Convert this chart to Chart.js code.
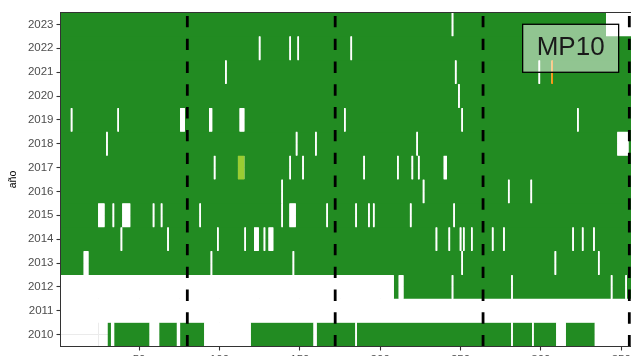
<!DOCTYPE html>
<html>
<head>
<meta charset="utf-8">
<script src="https://cdn.jsdelivr.net/npm/chart.js@4.4.1/dist/chart.umd.min.js"></script>
<style>
  html, body { margin: 0; padding: 0; background: #fff; overflow: hidden; }
  #wrap { position: absolute; left: 0; top: 0; width: 680px; height: 380px; }
</style>
</head>
<body>
<div id="wrap"><canvas id="myChart" width="680" height="380"></canvas></div>
<script>
const anios = ["2010", "2011", "2012", "2013", "2014", "2015", "2016",
               "2017", "2018", "2019", "2020", "2021", "2022", "2023"];
const primerDia = [31, 1, 1, 1, 1, 1, 1, 1, 1, 1, 1, 1, 1, 1];
const ultimoDia = [365, 365, 366, 365, 365, 365, 366, 365, 365, 365, 366, 365, 365, 365];

// [año, día desde, día hasta] sin dato
const sinDato = [
  ["2010", 33, 34], ["2010", 57, 62], ["2010", 74, 75], ["2010", 91, 119], ["2010", 159, 160],
  ["2010", 185, 185], ["2010", 282, 282], ["2010", 295, 295], ["2010", 310, 315], ["2010", 334, 365],
  ["2011", 1, 365],
  ["2012", 1, 208], ["2012", 212, 214], ["2012", 245, 245], ["2012", 282, 282], ["2012", 344, 344], ["2012", 353, 353],
  ["2013", 16, 18], ["2013", 95, 95], ["2013", 146, 146], ["2013", 251, 251], ["2013", 309, 309], ["2013", 336, 336],
  ["2014", 39, 39], ["2014", 68, 68], ["2014", 99, 99], ["2014", 116, 116], ["2014", 122, 124], ["2014", 128, 128],
  ["2014", 131, 133], ["2014", 235, 235], ["2014", 243, 243], ["2014", 250, 250], ["2014", 252, 252], ["2014", 257, 257],
  ["2014", 270, 270], ["2014", 277, 277], ["2014", 320, 320], ["2014", 326, 326], ["2014", 333, 333],
  ["2015", 25, 28], ["2015", 34, 34], ["2015", 40, 44], ["2015", 59, 59], ["2015", 64, 64], ["2015", 88, 88],
  ["2015", 139, 139], ["2015", 144, 147], ["2015", 167, 167], ["2015", 185, 185], ["2015", 193, 193],
  ["2015", 196, 196], ["2015", 219, 219], ["2015", 246, 246],
  ["2016", 139, 139], ["2016", 227, 227], ["2016", 280, 280], ["2016", 294, 294],
  ["2017", 97, 97], ["2017", 144, 144], ["2017", 152, 152], ["2017", 190, 190], ["2017", 211, 211],
  ["2017", 220, 220], ["2017", 224, 224], ["2017", 240, 241],
  ["2018", 30, 30], ["2018", 148, 148], ["2018", 160, 160], ["2018", 223, 223], ["2018", 348, 354],
  ["2019", 8, 8], ["2019", 37, 37], ["2019", 76, 78], ["2019", 94, 95], ["2019", 113, 115],
  ["2019", 178, 178], ["2019", 251, 251], ["2019", 323, 323],
  ["2020", 249, 249],
  ["2021", 104, 104], ["2021", 247, 247], ["2021", 299, 299],
  ["2022", 125, 125], ["2022", 144, 144], ["2022", 149, 149], ["2022", 182, 182],
  ["2023", 245, 245], ["2023", 341, 365]
];
const regular = [["2017", 112, 115]];
const alerta = [["2021", 307, 307]];

const estaciones = [80, 172, 264, 355];
const marcasX = [50, 100, 150, 200, 250, 300, 350];
const marcasMenoresX = [25, 75, 125, 175, 225, 275, 325];
const etiqueta = "MP10";

const colores = { bueno: "#228B22", regular: "#9ACD32", alerta: "#FF8C00", sinDato: "#FFFFFF" };

// tramos con dato "bueno" = lo que queda fuera de los otros tramos
function tramosBuenos() {
  const out = [];
  const otros = sinDato.concat(regular, alerta);
  anios.forEach((a, i) => {
    const huecos = otros.filter(r => r[0] === a).sort((p, q) => p[1] - q[1]);
    let desde = primerDia[i];
    huecos.forEach(([, d, h]) => {
      if (d > desde) out.push({ x: [desde - 0.5, d - 0.5], y: a });
      desde = Math.max(desde, h + 1);
    });
    if (desde <= ultimoDia[i]) out.push({ x: [desde - 0.5, ultimoDia[i] + 0.5], y: a });
  });
  return out;
}
const aBarras = rs => rs.map(([a, d, h]) => ({ x: [d - 0.5, h + 0.5], y: a }));

Chart.defaults.font.family = "'Liberation Sans', Arial, sans-serif";

const barra = {
  type: "bar", indexAxis: "y", xAxisID: "x", yAxisID: "y",
  grouped: false, categoryPercentage: 1, barPercentage: 1,
  borderWidth: 0, inflateAmount: 0
};

const marco = {
  id: "marco",
  afterDatasetsDraw(chart) {
    const { ctx, chartArea: a, scales } = chart;
    const cx = scales.x.getPixelForValue(318.5);
    const cy = scales.y.getPixelForValue(anios.indexOf("2022"));
    const w = 96, h = 48;
    ctx.save();
    ctx.fillStyle = "rgba(255,255,255,0.5)";
    ctx.fillRect(cx - w / 2, cy - h / 2, w, h);
    ctx.strokeStyle = "#000";
    ctx.lineWidth = 1.3;
    ctx.strokeRect(cx - w / 2, cy - h / 2, w, h);
    ctx.fillStyle = "#1A1A1A";
    ctx.font = "26px 'Liberation Sans', Arial, sans-serif";
    ctx.textAlign = "center";
    ctx.textBaseline = "alphabetic";
    ctx.fillText(etiqueta, cx, cy + 7);
    ctx.strokeStyle = "#333";
    ctx.lineWidth = 1;
    ctx.strokeRect(a.left, a.top, a.right - a.left, a.bottom - a.top);
    ctx.restore();
  }
};

new Chart(document.getElementById("myChart"), {
  type: "bar",
  plugins: [marco],
  data: {
    labels: anios,
    datasets: [
      { ...barra, label: "Bueno", data: tramosBuenos(), backgroundColor: colores.bueno, barPercentage: 1.04, order: 4 },
      { ...barra, label: "Sin dato", data: aBarras(sinDato), backgroundColor: colores.sinDato, order: 3 },
      { ...barra, label: "Regular", data: aBarras(regular), backgroundColor: colores.regular, order: 2 },
      { ...barra, label: "Alerta", data: aBarras(alerta), backgroundColor: colores.alerta, order: 2 },
      ...estaciones.map(d => ({
        type: "line", label: "dia " + d, indexAxis: "x", xAxisID: "x", yAxisID: "yl",
        data: [{ x: d, y: 0 }, { x: d, y: 1 }],
        borderColor: "#000", borderWidth: 2.8, borderDash: [11.4, 11.4],
        pointRadius: 0, order: 0
      }))
    ]
  },
  options: {
    responsive: false,
    animation: false,
    layout: { padding: { top: 12.5, right: 33, bottom: 0, left: 0 } },
    plugins: { legend: { display: false }, tooltip: { enabled: false } },
    scales: {
      x: {
        type: "linear", position: "bottom", min: 1.1, max: 366, offset: false,
        afterBuildTicks: s => {
          s.ticks = marcasMenoresX.concat(marcasX).sort((p, q) => p - q).map(v => ({ value: v }));
        },
        afterFit: s => { s.height = 33.5; },
        ticks: {
          callback: v => marcasX.includes(v) ? String(v) : "",
          color: "#4D4D4D", font: { size: 11.5 }, padding: 2, maxRotation: 0, autoSkip: false
        },
        grid: {
          offset: false, color: "#EBEBEB", tickLength: 4, tickWidth: 1.1,
          tickColor: c => (c.tick && marcasX.includes(c.tick.value)) ? "#333" : "rgba(0,0,0,0)"
        },
        border: { display: false }
      },
      y: {
        type: "category", position: "left", reverse: true, offset: true,
        afterFit: s => { s.width = 60.5; },
        ticks: { color: "#4D4D4D", font: { size: 11.5 }, padding: 3, autoSkip: false },
        grid: { offset: false, color: "#EBEBEB", tickLength: 4, tickColor: "#333", tickWidth: 1.1 },
        border: { display: false },
        title: { display: true, text: "año", color: "#000", font: { size: 10.5 }, padding: { top: 7, bottom: 0 } }
      },
      yl: { type: "linear", position: "left", min: 0, max: 1, display: false }
    }
  }
});
</script>
</body>
</html>
